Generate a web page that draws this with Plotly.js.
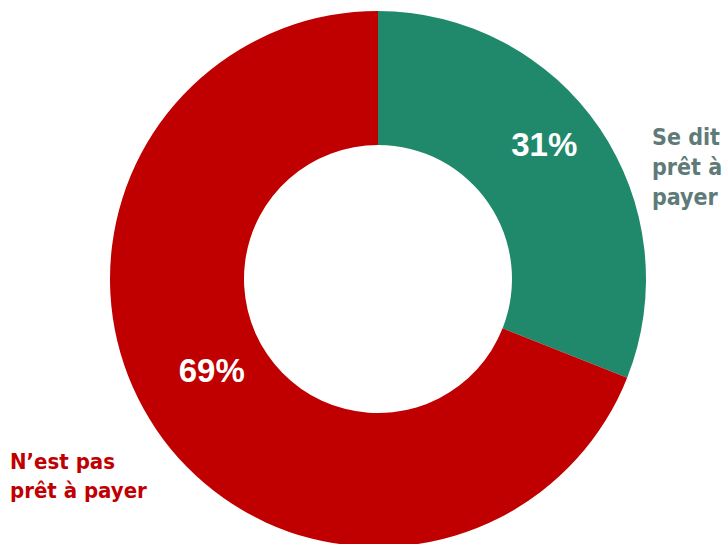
<!DOCTYPE html>
<html><head><meta charset="utf-8">
<script src="https://cdn.plot.ly/plotly-3.0.1.min.js"></script>
<style>html,body{margin:0;padding:0;overflow:hidden;background:#fff}</style>
</head><body><div id="chart"></div>
<script>
const categories = ["Se dit prêt à payer", "N’est pas prêt à payer"];
const values = [31, 69];
const labelLines = ["Se dit<br>prêt à<br>payer", "N’est pas<br>prêt à payer"];
const colors = ["#21896B", "#C00000"];
const labelColors = ["#5F7B79", "#C00000"];

const W = 724, H = 550;
const px = x => x / W, py = y => 1 - y / H;

const trace = {
  type: "pie",
  labels: categories,
  values: values,
  sort: false,
  direction: "clockwise",
  rotation: 0,
  hole: 0.5,
  marker: {colors: colors, line: {width: 0}},
  texttemplate: "%{value}%<br>&nbsp;",
  textposition: "inside",
  insidetextorientation: "horizontal",
  textfont: {family: "Liberation Sans, Arial, sans-serif", size: 33, color: "#ffffff", weight: "bold"},
  domain: {x: [px(110), px(646)], y: [py(547), py(11)]},
  showlegend: false,
  hoverinfo: "none"
};

const layout = {
  width: W, height: H,
  margin: {l: 0, r: 0, t: 0, b: 0},
  paper_bgcolor: "#ffffff",
  showlegend: false,
  annotations: [
    {text: "<b>" + labelLines[0] + "</b>", xref: "paper", yref: "paper", x: px(650), y: py(122),
     xanchor: "left", yanchor: "top", align: "left", showarrow: false,
     font: {family: "DejaVu Sans Condensed, DejaVu Sans, sans-serif", size: 23, color: labelColors[0]}},
    {text: "<b>" + labelLines[1] + "</b>", xref: "paper", yref: "paper", x: px(8), y: py(447),
     xanchor: "left", yanchor: "top", align: "left", showarrow: false,
     font: {family: "DejaVu Sans Condensed, DejaVu Sans, sans-serif", size: 22, color: labelColors[1]}}
  ]
};

Plotly.newPlot("chart", [trace], layout, {displayModeBar: false, staticPlot: true});
</script></body></html>
